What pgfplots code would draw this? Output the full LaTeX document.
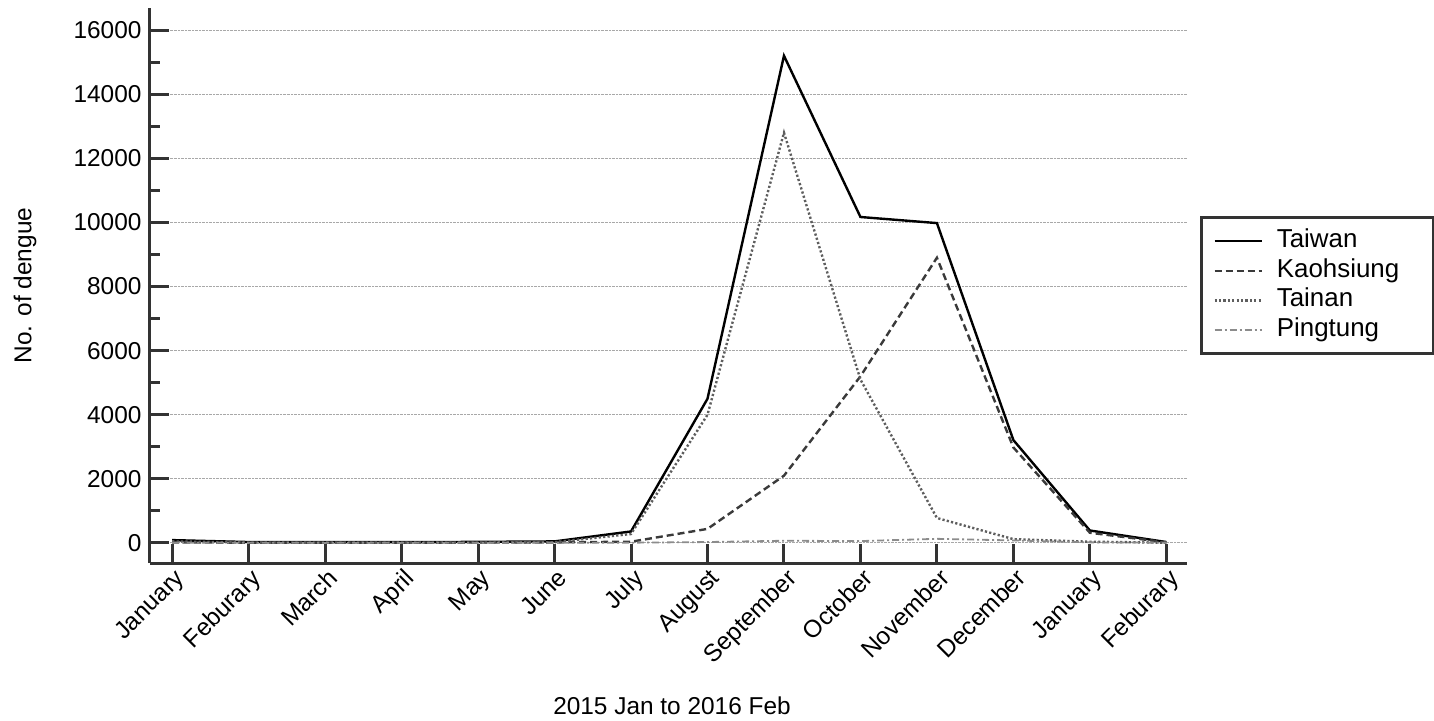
\documentclass[border=0pt]{standalone}
\usepackage{pgfplots}
\pgfplotsset{compat=1.18}
\usepackage{fontspec}
\setmainfont{Liberation Sans}
\definecolor{axc}{HTML}{333333}
\definecolor{kc}{HTML}{3a3a3a}
\definecolor{tc}{HTML}{5e5e5e}
\definecolor{pc}{HTML}{8c8c8c}
\definecolor{gc}{HTML}{a8a8a8}
\begin{document}
\begin{tikzpicture}
\useasboundingbox (-150bp,-158bp) rectangle (1284bp,563bp);
\begin{axis}[
 at={(0,0)}, anchor=south west,
 scale only axis, width=1037bp, height=555bp,
 xmin=-0.29, xmax=13.27, ymin=-624, ymax=16690,
 axis x line*=bottom, axis y line*=left,
 axis line style={line width=3bp, color=axc, -},
 xtick={0,...,13},
 xticklabels={January,Feburary,March,April,May,June,July,August,September,October,November,December,January,Feburary},
 ytick={0,2000,...,16000},
 minor ytick={1000,3000,...,15000},
 scaled y ticks=false,
 tick align=inside,
 major tick length=19bp, minor tick length=10bp,
 tick style={line width=3bp, color=axc},
 ymajorgrids, grid style={densely dotted, gc, line width=1bp},
 /pgf/number format/assume math mode=true,
 /pgf/number format/1000 sep={},
 tick label style={font=\fontsize{24.5}{28}\selectfont, color=black},
 yticklabel style={xshift=-5bp},
 xticklabel style={rotate=45, anchor=north east, inner sep=2bp, yshift=-2bp},
 ylabel={No. of dengue},
 ylabel style={at={(axis description cs:-0.1205,0.5)}, anchor=center, font=\fontsize{24.5}{28}\selectfont},
 xlabel={2015 Jan to 2016 Feb},
 xlabel style={at={(axis description cs:0.5034,-0.2577)}, anchor=center, font=\fontsize{24.5}{28}\selectfont},
 legend image code/.code={\draw[#1] (0bp,0bp) -- (47bp,0bp);},
 legend style={at={(axis description cs:1.0125,0.6252)}, anchor=north west,
   draw=axc, line width=3bp, inner xsep=12bp, inner ysep=9bp,
   font=\fontsize{26}{30}\selectfont, row sep=0.7bp,
   nodes={inner sep=3bp, text height=18bp, text depth=5bp, text width=142bp},
   /tikz/every odd column/.style={column sep=11bp}},
 legend cell align=left,
]
\addplot[black, line width=2.4bp] coordinates {
(0,90) (1,30) (2,25) (3,25) (4,35) (5,50) (6,360) (7,4500) (8,15200) (9,10170) (10,9980) (11,3210) (12,390) (13,30)};
\addlegendentry{Taiwan}
\addplot[kc, line width=2.4bp, dash pattern=on 7bp off 4bp] coordinates {
(0,20) (1,10) (2,10) (3,10) (4,15) (5,20) (6,40) (7,440) (8,2100) (9,5200) (10,8900) (11,2980) (12,320) (13,20)};
\addlegendentry{Kaohsiung}
\addplot[tc, line width=2.4bp, dash pattern=on 2.2bp off 2.2bp] coordinates {
(0,50) (1,15) (2,10) (3,10) (4,15) (5,25) (6,280) (7,4000) (8,12800) (9,5100) (10,780) (11,120) (12,40) (13,10)};
\addlegendentry{Tainan}
\addplot[pc, line width=1.8bp, dash pattern=on 7bp off 3bp on 2bp off 3bp] coordinates {
(0,5) (1,5) (2,5) (3,5) (4,5) (5,5) (6,10) (7,30) (8,70) (9,60) (10,130) (11,80) (12,20) (13,10)};
\addlegendentry{Pingtung}
\end{axis}
\end{tikzpicture}
\end{document}
